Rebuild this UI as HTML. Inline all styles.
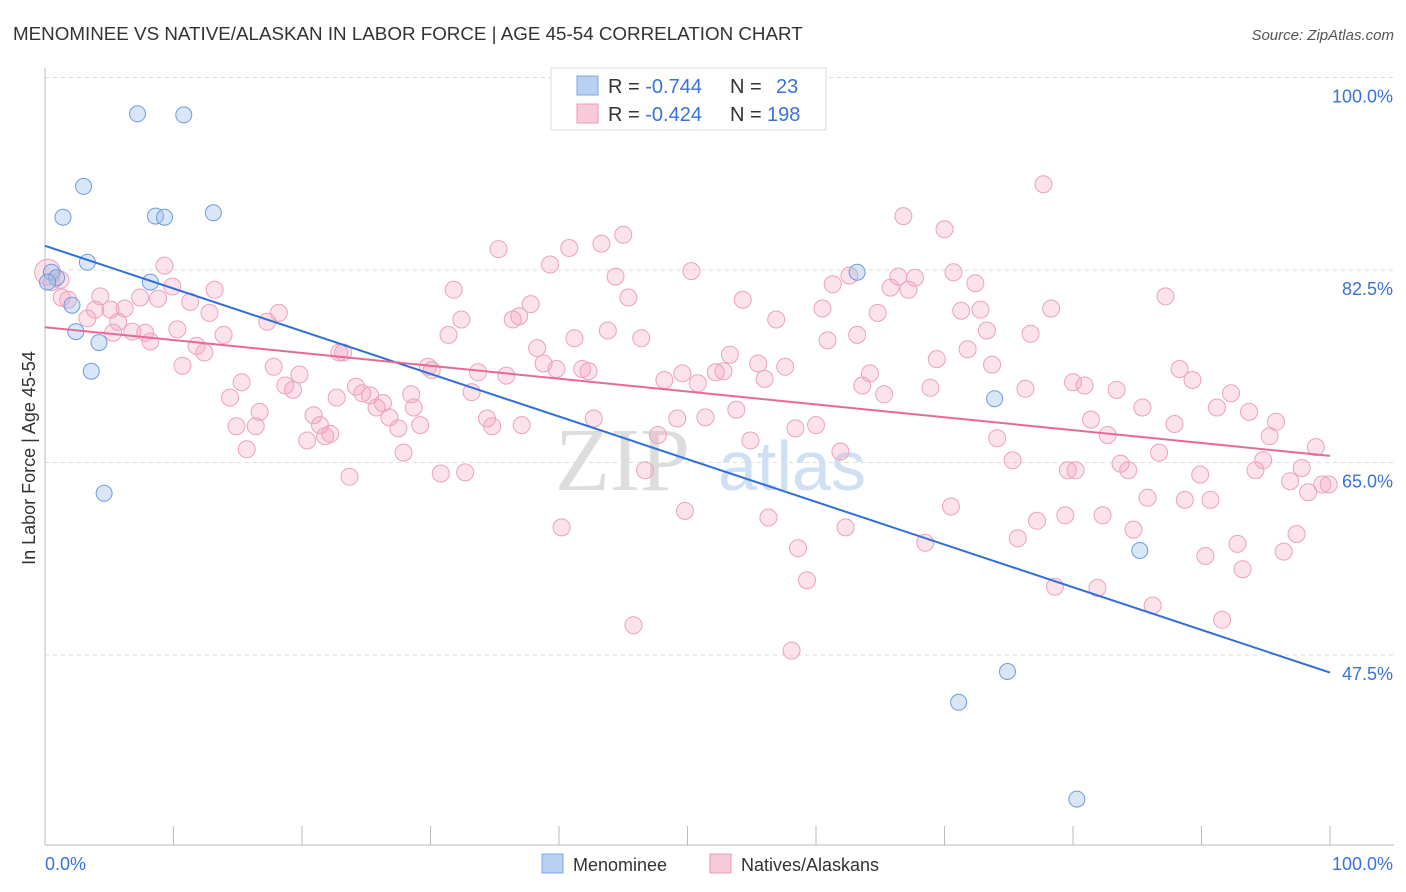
<!DOCTYPE html>
<html><head><meta charset="utf-8"><style>
body{margin:0;background:#fff;font-family:"Liberation Sans",sans-serif}
svg{display:block}
</style></head><body>
<svg id="chart" width="1406" height="892" xmlns="http://www.w3.org/2000/svg">
<text x="13" y="40" font-size="18.8" fill="#333">MENOMINEE VS NATIVE/ALASKAN IN LABOR FORCE | AGE 45-54 CORRELATION CHART</text>
<text x="1394" y="40" font-size="15" fill="#555" font-style="italic" text-anchor="end">Source: ZipAtlas.com</text>
<text x="35" y="458" font-size="18" fill="#333" text-anchor="middle" transform="rotate(-90 35 458)">In Labor Force | Age 45-54</text>
<g id="grid"></g>
<g id="axes"></g>
<text x="555" y="490" font-size="90" fill="#ddd" font-family="Liberation Serif,serif">ZIP</text>
<text x="718" y="490" font-size="70" fill="#cfe0f4">atlas</text>
<g id="pts"></g>
<g id="lines"></g>
<g>
<rect x="551" y="68" width="275" height="62" fill="#fff" stroke="#ddd"/>
<rect x="577" y="76" width="21" height="19" fill="#b8d1f3" stroke="#7ea6e0"/>
<rect x="577" y="104" width="21" height="19" fill="#f8c9d8" stroke="#e89ab5"/>
<text x="608" y="93" font-size="20" fill="#333">R = <tspan fill="#3a72d8">-0.744</tspan><tspan x="730">N = </tspan><tspan x="776" fill="#3a72d8">23</tspan></text>
<text x="608" y="121" font-size="20" fill="#333">R = <tspan fill="#3a72d8">-0.424</tspan><tspan x="730">N = </tspan><tspan x="767" fill="#3a72d8">198</tspan></text>
</g>
<g>
<rect x="542" y="854" width="21" height="19" fill="#b8d1f3" stroke="#7ea6e0"/>
<text x="573" y="871" font-size="18" fill="#333">Menominee</text>
<rect x="710" y="854" width="21" height="19" fill="#f8c9d8" stroke="#e89ab5"/>
<text x="741" y="871" font-size="18" fill="#333">Natives/Alaskans</text>
</g>
</svg>
<script>
const yTicks=[100,82.5,65,47.5];
const yTickLabels=["100.0%","82.5%","65.0%","47.5%"];
const xEndLabels=["0.0%","100.0%"];
const blueX=[7.2,10.8,3.0,1.4,8.6,9.3,13.1,3.3,0.5,8.2,0.9,2.1,2.4,4.2,3.6,4.6,63.2,73.9,85.2,74.9,71.1,80.3,0.2];
const blueY=[96.7,96.6,90.1,87.3,87.4,87.3,87.7,83.2,82.3,81.4,81.8,79.3,76.9,75.9,73.3,62.2,82.3,70.8,57.0,46.0,43.2,34.4,81.4];
const pinkX=[0.2,0.5,1.2,1.8,1.3,3.3,4.3,3.9,5.1,5.3,5.7,6.2,6.8,7.4,7.8,8.2,8.8,9.3,9.9,10.3,10.7,11.3,11.8,12.4,12.8,13.2,13.9,14.4,14.9,15.3,15.7,16.4,16.7,17.3,17.8,18.2,18.7,19.3,19.8,20.4,20.9,21.4,21.8,22.2,22.7,23.2,23.7,24.2,24.7,25.3,25.8,26.3,26.8,27.5,27.9,28.5,28.7,29.2,29.8,30.1,30.8,31.4,31.8,32.4,32.7,33.2,33.7,34.4,34.8,35.3,35.9,36.4,36.9,37.1,37.8,38.3,38.8,39.3,39.8,40.2,40.8,41.2,41.8,42.3,42.7,43.3,43.8,44.4,45.0,45.4,45.8,46.4,46.7,47.7,48.2,49.2,49.6,49.8,50.3,50.8,51.4,52.2,52.8,53.3,53.8,54.3,54.9,55.5,56.0,56.3,56.9,57.6,58.1,58.4,58.6,59.3,60.0,60.5,60.9,61.3,61.9,62.3,62.6,63.2,63.6,64.2,64.8,65.3,65.8,66.4,66.8,67.2,67.7,68.5,68.9,69.4,70.0,70.5,70.7,71.3,71.8,72.4,72.8,73.3,73.7,74.1,75.3,75.7,76.3,76.7,77.2,77.7,78.3,78.6,79.4,79.6,80.0,80.2,80.9,81.4,81.9,82.3,82.7,83.4,83.7,84.3,84.7,85.4,85.8,86.2,86.7,87.2,87.9,88.3,88.7,89.3,89.9,90.3,90.7,91.2,91.6,92.3,92.8,93.2,93.7,94.2,94.8,95.3,95.8,96.4,96.9,97.4,97.8,98.3,98.9,99.4,99.9,22.9];
const pinkY=[82.3,81.4,81.6,79.8,80.0,78.1,80.1,78.9,78.9,76.8,77.8,79.0,76.9,80.0,76.8,76.0,79.9,82.9,81.0,77.1,73.8,79.6,75.6,75.0,78.6,80.7,76.6,70.9,68.3,72.3,66.2,68.3,69.6,77.8,73.7,78.6,72.0,71.6,73.0,67.0,69.3,68.4,67.4,67.6,70.9,75.0,63.7,71.9,71.3,71.1,70.0,70.4,69.1,68.1,65.9,71.2,70.0,68.4,73.7,73.4,64.0,76.6,80.7,78.0,64.1,71.4,73.2,69.0,68.3,84.4,72.9,78.0,78.3,68.4,79.4,75.4,74.0,83.0,73.5,59.1,84.5,76.3,73.5,73.3,69.0,84.9,77.0,81.9,85.7,80.0,50.2,76.3,64.3,67.5,72.5,69.0,73.1,60.6,82.4,72.2,69.1,73.2,73.3,74.8,69.8,79.8,67.0,74.0,72.6,60.0,78.0,73.7,47.9,68.1,57.2,54.3,68.4,79.0,76.1,81.2,66.0,59.1,82.0,76.6,72.0,73.1,78.6,71.2,80.9,81.9,87.4,80.7,81.8,57.7,71.8,74.4,86.2,61.0,82.3,78.8,75.3,81.3,78.9,77.0,73.9,67.2,65.2,58.1,71.7,76.7,59.7,90.3,79.0,53.7,60.2,64.3,72.3,64.3,72.0,68.9,53.6,60.2,67.5,71.6,64.9,64.3,58.9,70.0,61.8,52.0,65.9,80.1,68.5,73.5,61.6,72.5,63.9,56.5,61.6,70.0,50.7,71.3,57.6,55.3,69.6,64.3,65.2,67.4,68.7,56.9,63.3,58.5,64.5,62.3,66.4,63.0,63.0,75.0];
const blueTrend=[84.7,45.9];
const pinkTrend=[77.3,65.6];

const NS="http://www.w3.org/2000/svg";
const X=v=>45+v*12.85;
const Y=v=>77.5+(100-v)*11;
function mk(tag,attrs,parent){const e=document.createElementNS(NS,tag);for(const k in attrs)e.setAttribute(k,attrs[k]);parent.appendChild(e);return e;}
const grid=document.getElementById('grid'),axes=document.getElementById('axes'),pts=document.getElementById('pts'),lines=document.getElementById('lines');
yTicks.forEach((t,i)=>{
  const l=mk('line',{x1:45,x2:1394,y1:Y(t),y2:Y(t),stroke:'#ddd','stroke-dasharray':'4,4'},grid);
  
  
  const tx=mk('text',{x:1393,y:Y(t)+25,'font-size':18,fill:'#3a72d8','text-anchor':'end'},grid);
  tx.textContent=yTickLabels[i];
  
  
});
mk('line',{x1:45,x2:45,y1:68,y2:845,stroke:'#bbb'},axes);
mk('line',{x1:45,x2:1394,y1:845,y2:845,stroke:'#bbb'},axes);
for(let i=0;i<=10;i++){const t=mk('line',{x1:X(i*10),x2:X(i*10),y1:826,y2:845,stroke:'#bbb'},axes);
  
  }
const xl0=mk('text',{x:45,y:870,'font-size':18,fill:'#3a72d8'},axes);xl0.textContent=xEndLabels[0];


const xl1=mk('text',{x:1393,y:870,'font-size':18,fill:'#3a72d8','text-anchor':'end'},axes);xl1.textContent=xEndLabels[1];


pinkX.forEach((v,i)=>{const c=mk('circle',{cx:X(v),cy:Y(pinkY[i]),r:i==0?13:8.5,fill:'rgba(244,160,190,0.3)',stroke:'#eba3bd','stroke-width':1},pts);
  
  });
blueX.forEach((v,i)=>{const c=mk('circle',{cx:X(v),cy:Y(blueY[i]),r:8,fill:'rgba(160,192,238,0.4)',stroke:'#6f9bdc','stroke-width':1},pts);
  
  });
const bl=mk('line',{x1:X(0),y1:Y(blueTrend[0]),x2:X(100),y2:Y(blueTrend[1]),stroke:'#2f6fd8','stroke-width':2},lines);


const pl=mk('line',{x1:X(0),y1:Y(pinkTrend[0]),x2:X(100),y2:Y(pinkTrend[1]),stroke:'#e8689a','stroke-width':2},lines);


</script>
</body></html>
